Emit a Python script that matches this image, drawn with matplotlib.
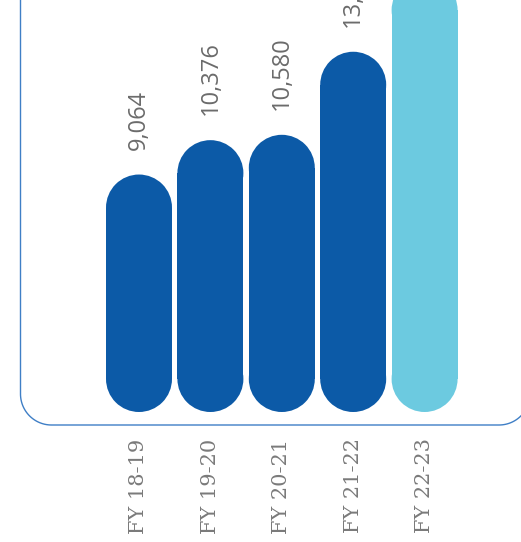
import matplotlib
matplotlib.use("Agg")
from matplotlib import pyplot as plt
from matplotlib.patches import Ellipse
from matplotlib.lines import Line2D
import numpy as np

years = ["FY 18-19", "FY 19-20", "FY 20-21", "FY 21-22", "FY 22-23"]
values = [9064, 10376, 10580, 13750, 16600]
colors = ["#0c5aa7", "#0c5aa7", "#0c5aa7", "#0c5aa7", "#6ccae0"]

W, H, DPI = 521, 542, 100
fig = plt.figure(figsize=(W / DPI, H / DPI), dpi=DPI)
ax = fig.add_axes([0, 0, 1, 1])
ax.axis("off")

# pixel mapping: bar centres every 71.4 px starting at 139, value 0 at y=412 px
px_per_x = 71.4
px_per_v = 0.0262
x0, y0 = 139, 412
ax.set_xlim(-x0 / px_per_x, (W - x0) / px_per_x)
ax.set_ylim((y0 - H) / px_per_v, y0 / px_per_v)

bw = 0.924
aspect = px_per_x / px_per_v   # y units per x unit for equal pixel length
ry = bw / 2 * aspect

# rounded frame (inches), only left/bottom edges and bottom corners visible
left, bottom, right, r = 0.205, 1.17, 5.30, 0.31
t1 = np.linspace(np.pi, 1.5 * np.pi, 30)
t2 = np.linspace(1.5 * np.pi, 2 * np.pi, 30)
fx = np.concatenate([[left], left + r + r * np.cos(t1), right - r + r * np.cos(t2), [right]])
fy = np.concatenate([[6.0], bottom + r + r * np.sin(t1), bottom + r + r * np.sin(t2), [6.0]])
fig.add_artist(Line2D(fx, fy, transform=fig.dpi_scale_trans, color="#3f7fc6", lw=1))

for i, (lab, v, c) in enumerate(zip(years, values, colors)):
    # pill shaped bar: straight body plus round caps
    ax.bar(i, v - 2 * ry, width=bw, bottom=ry, color=c, linewidth=0)
    ax.add_patch(Ellipse((i, ry), bw, 2 * ry, facecolor=c, edgecolor="none"))
    ax.add_patch(Ellipse((i, v - ry), bw, 2 * ry, facecolor=c, edgecolor="none"))
    ax.annotate(f"{v:,}", xy=(i, v), xytext=(0, 18), textcoords="offset points",
                rotation=90, ha="center", va="bottom", fontsize=17,
                family="Open Sans", color="#6b6b6b")
    ax.annotate(lab, xy=(i, 0), xytext=(0, -19), textcoords="offset points",
                rotation=90, ha="center", va="top", fontsize=15,
                family="DejaVu Serif", color="#7a7a7a")

fig.savefig("out.png", dpi=DPI)
